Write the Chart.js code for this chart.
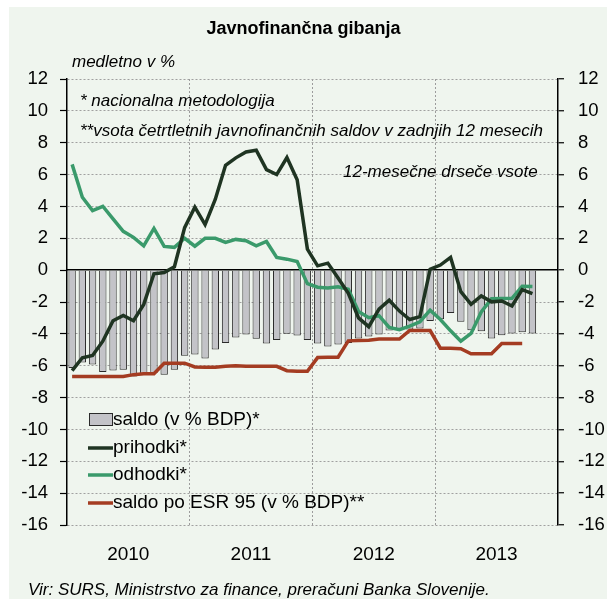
<!DOCTYPE html>
<html>
<head>
<meta charset="utf-8">
<script src="https://cdn.jsdelivr.net/npm/chart.js@4/dist/chart.umd.min.js"></script>
<style>
html,body{margin:0;padding:0;background:#fff;}
#wrap{width:607px;height:599px;}
</style>
</head>
<body>
<div id="wrap"><canvas id="c" width="607" height="599"></canvas></div>
<script>
// ---- data ----
const months = [
 '2010-01','2010-02','2010-03','2010-04','2010-05','2010-06','2010-07','2010-08','2010-09','2010-10','2010-11','2010-12',
 '2011-01','2011-02','2011-03','2011-04','2011-05','2011-06','2011-07','2011-08','2011-09','2011-10','2011-11','2011-12',
 '2012-01','2012-02','2012-03','2012-04','2012-05','2012-06','2012-07','2012-08','2012-09','2012-10','2012-11','2012-12',
 '2013-01','2013-02','2013-03','2013-04','2013-05','2013-06','2013-07','2013-08','2013-09','2013-10','2013-11','2013-12'
];
const yearLabels = ['2010','2011','2012','2013'];

const saldo = [
 -6.15,-5.80,-5.93,-6.40,-6.30,-6.25,-6.67,-6.55,-6.45,-6.56,-6.25,-5.37,
 -5.30,-5.55,-4.98,-4.57,-4.23,-4.04,-4.31,-4.61,-4.38,-4.00,-4.10,-4.38,
 -4.61,-4.80,-4.67,-4.57,-4.29,-4.17,-4.04,-3.79,-3.75,-3.73,-3.66,-3.20,
 -3.09,-2.69,-3.24,-3.78,-3.83,-4.29,-4.09,-3.98,-3.90,-3.97
];
const prihodki = [
 -6.31,-5.50,-5.36,-4.46,-3.18,-2.84,-3.18,-2.15,-0.23,-0.15,0.21,2.67,
 3.95,2.86,4.45,6.58,7.05,7.42,7.53,6.31,6.00,7.07,5.68,1.32,
 0.27,0.44,-0.50,-1.45,-3.00,-3.55,-2.45,-1.89,-2.57,-3.10,-2.92,0.06,
 0.32,0.80,-1.35,-2.15,-1.62,-1.99,-1.94,-2.25,-1.22,-1.48
];
const odhodki = [
 6.64,4.58,3.74,4.01,3.22,2.44,2.06,1.53,2.62,1.49,1.43,2.00,
 1.50,2.00,2.00,1.74,1.93,1.85,1.53,1.80,0.80,0.69,0.54,-0.85,
 -1.07,-1.12,-1.05,-1.20,-2.60,-2.99,-2.86,-3.60,-3.74,-3.51,-3.24,-2.51,
 -3.10,-3.81,-4.46,-3.97,-2.62,-1.80,-1.78,-1.77,-1.01,-1.03
];
const esr95 = [
 -6.67,-6.67,-6.67,-6.67,-6.67,-6.67,-6.56,-6.50,-6.50,-5.84,-5.84,-5.84,
 -6.08,-6.10,-6.10,-6.04,-6.00,-6.03,-6.04,-6.04,-6.04,-6.31,-6.35,-6.35,
 -5.49,-5.47,-5.47,-4.44,-4.42,-4.40,-4.33,-4.33,-4.33,-3.79,-3.79,-3.79,
 -4.90,-4.90,-4.93,-5.25,-5.25,-5.25,-4.61,-4.61,-4.61
];
const yMin = -16, yMax = 12, yStep = 2;

const FONT = '"Liberation Sans", Arial, sans-serif';
const COL_BAR = '#c3c3c8', COL_BAR_EDGE = '#2a2a2a';
const COL_PRI = '#1f3422', COL_ODH = '#3a9a6b', COL_ESR = '#a43c22';

const decor = {
  id: 'decor',
  beforeDraw(chart) {
    const c = chart.ctx;
    c.save();
    c.fillStyle = '#ffffff';
    c.fillRect(0, 0, chart.width, chart.height);
    c.fillStyle = '#eff5ee';
    c.fillRect(9, 7, chart.width - 9, chart.height - 7);
    c.restore();
  },
  afterDraw(chart) {
    const c = chart.ctx;
    c.save();
    c.fillStyle = '#000';
    c.textBaseline = 'middle';
    c.textAlign = 'left';
    c.font = 'italic 17px ' + FONT;
    c.fillText('medletno v %', 72, 62);
    c.fillText('* nacionalna metodologija', 80, 101);
    c.fillText('**vsota četrtletnih javnofinančnih saldov v zadnjih 12 mesecih', 80, 131);
    c.fillText('12-mesečne drseče vsote', 343, 172);
    c.fillText('Vir: SURS, Ministrstvo za finance, preračuni Banka Slovenije.', 28, 590);

    // legend
    const ds = chart.data.datasets;
    const bar = ds.find(d => d.type === 'bar');
    const lines = ds.filter(d => d.type === 'line').sort((a,b)=>a.legendIndex-b.legendIndex);
    c.font = '19px ' + FONT;
    c.fillStyle = bar.backgroundColor;
    c.fillRect(89.5, 413.5, 23, 12);
    c.strokeStyle = bar.borderColor; c.lineWidth = 1;
    c.strokeRect(89.5, 413.5, 23, 12);
    c.fillStyle = '#000';
    c.fillText(bar.label, 113, 420);
    const ys = [448, 475, 503];
    lines.forEach((d, i) => {
      c.strokeStyle = d.borderColor; c.lineWidth = 3.5;
      c.beginPath(); c.moveTo(88, ys[i]); c.lineTo(113, ys[i]); c.stroke();
      c.fillStyle = '#000';
      c.fillText(d.label, 113, ys[i]);
    });
    c.restore();
  }
};

new Chart(document.getElementById('c'), {
  type: 'bar',
  data: {
    labels: months,
    datasets: [
      { type:'line', label:'prihodki*', legendIndex:0, data: prihodki, borderColor: COL_PRI, borderWidth: 3.5,
        pointRadius: 0, tension: 0, fill: false, order: 1, yAxisID: 'y' },
      { type:'line', label:'odhodki*', legendIndex:1, data: odhodki, borderColor: COL_ODH, borderWidth: 3.5,
        pointRadius: 0, tension: 0, fill: false, order: 2, yAxisID: 'y' },
      { type:'line', label:'saldo po ESR 95 (v % BDP)**', legendIndex:2, data: esr95, borderColor: COL_ESR, borderWidth: 3.5,
        pointRadius: 0, tension: 0, fill: false, order: 3, yAxisID: 'y' },
      { type:'bar', label:'saldo (v % BDP)*', data: saldo, backgroundColor: COL_BAR, borderColor: COL_BAR_EDGE,
        borderWidth: 1, barPercentage: 0.72, categoryPercentage: 1, order: 10, yAxisID: 'y' }
    ]
  },
  options: {
    responsive: false,
    devicePixelRatio: 1,
    animation: false,
    layout: { padding: 0 },
    plugins: {
      legend: { display: false },
      tooltip: { enabled: false },
      title: {
        display: true, text: 'Javnofinančna gibanja', color: '#000',
        font: { family: FONT, size: 18, weight: 'bold', lineHeight: 1.2 },
        padding: { top: 18, bottom: 39.4 }
      }
    },
    scales: {
      x: {
        type: 'category', offset: true,
        grid: { offset: true, drawTicks: false,
          color: c => (c.index > 0 && c.index % 12 === 0 && c.index < months.length) ? '#9c9c9c' : 'rgba(0,0,0,0)' },
        border: { display: false, dash: [2, 2] },
        ticks: { autoSkip: false, maxRotation: 0, minRotation: 0, labelOffset: 5, padding: 18, color: '#000',
          font: { family: FONT, size: 19 },
          callback: (v, i) => (i % 12 === 5 ? yearLabels[(i - 5) / 12] : '') },
        afterFit: s => { s.height = 74; }
      },
      y: {
        position: 'left', min: yMin, max: yMax,
        ticks: { stepSize: yStep, padding: 12, color: '#000', font: { family: FONT, size: 18.5 } },
        grid: { color: c => (c.tick && c.tick.value === 0) ? 'rgba(0,0,0,0)' : '#a0a0a0', lineWidth: 1,
          tickColor: '#000', tickLength: 7, tickWidth: 1.2 },
        border: { color: '#000', width: 1.5, dash: [2, 2] },
        afterFit: s => { s.width = 67; }
      },
      y2: {
        position: 'right', min: yMin, max: yMax,
        ticks: { stepSize: yStep, padding: 14, color: '#000', font: { family: FONT, size: 18.5 } },
        grid: { color: c => (c.tick && c.tick.value === 0) ? '#000' : 'rgba(0,0,0,0)', lineWidth: 1.5,
          tickColor: '#000', tickLength: 6, tickWidth: 1.2 },
        border: { color: '#000', width: 1.5 },
        afterFit: s => { s.width = 49; }
      }
    }
  },
  plugins: [decor]
});
</script>
</body>
</html>
